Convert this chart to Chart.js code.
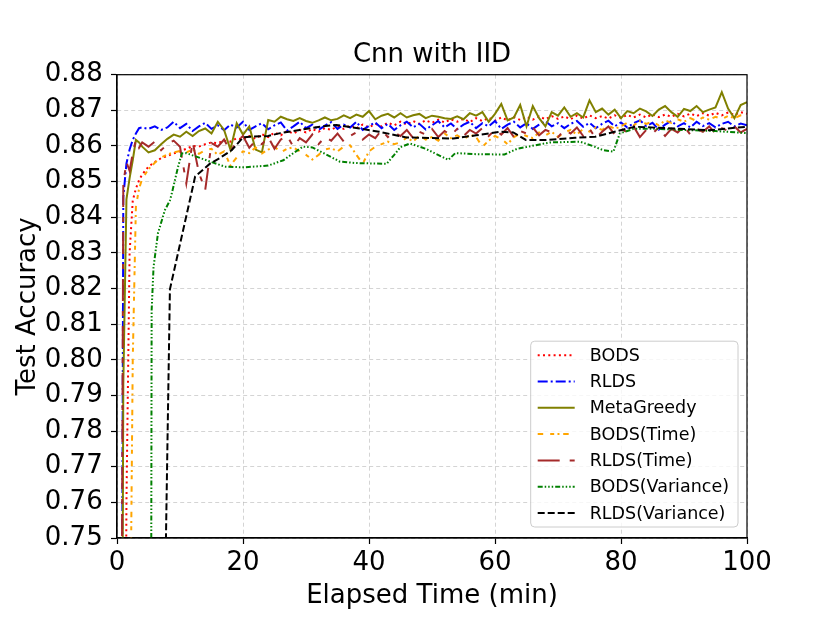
<!DOCTYPE html>
<html>
<head>
<meta charset="utf-8">
<script src="https://cdn.jsdelivr.net/npm/chart.js@4.4.1/dist/chart.umd.min.js"></script>
<style>
  html, body { margin: 0; padding: 0; background: #fff; }
  canvas { display: block; }
</style>
</head>
<body>
<canvas id="chart" width="830" height="623"></canvas>
<script>
// shared time axis (minutes) for the noisy runs
const minutes = [
  0, 0.5, 1, 1.5, 2, 2.5, 3, 3.5, 4,
  5, 6, 7, 8, 9, 10, 11, 12, 13, 14,
  15, 16, 17, 18, 19, 20, 21, 22, 23, 24,
  25, 26, 27, 28, 29, 30, 31, 32, 33, 34,
  35, 36, 37, 38, 39, 40, 41, 42, 43, 44,
  45, 46, 47, 48, 49, 50, 51, 52, 53, 54,
  55, 56, 57, 58, 59, 60, 61, 62, 63, 64,
  65, 66, 67, 68, 69, 70, 71, 72, 73, 74,
  75, 76, 77, 78, 79, 80, 81, 82, 83, 84,
  85, 86, 87, 88, 89, 90, 91, 92, 93, 94,
  95, 96, 97, 98, 99, 100
];

const bods = [
  0.50, 0.50, 0.60, 0.76, 0.83, 0.8447, 0.8480, 0.8504, 0.8520,
  0.8542, 0.8555, 0.8566, 0.8572, 0.8579, 0.8585, 0.8592, 0.8600, 0.8598, 0.8605,
  0.8610, 0.8608, 0.8615, 0.8612, 0.8622, 0.8618, 0.8628, 0.8620, 0.8633, 0.8625,
  0.8638, 0.8630, 0.8642, 0.8635, 0.8645, 0.8638, 0.8648, 0.8640, 0.8650, 0.8645,
  0.8655, 0.8648, 0.8658, 0.8650, 0.8660, 0.8652, 0.8662, 0.8655, 0.8665, 0.8658,
  0.8668, 0.8660, 0.8670, 0.8662, 0.8672, 0.8665, 0.8674, 0.8666, 0.8675, 0.8668,
  0.8676, 0.8667, 0.8678, 0.8670, 0.8679, 0.8671, 0.8680, 0.8672, 0.8681, 0.8673,
  0.8682, 0.8674, 0.8683, 0.8675, 0.8684, 0.8676, 0.8683, 0.8675, 0.8685, 0.8677,
  0.8686, 0.8678, 0.8684, 0.8677, 0.8686, 0.8679, 0.8687, 0.8680, 0.8688, 0.8680,
  0.8689, 0.8681, 0.8688, 0.8682, 0.8690, 0.8683, 0.8691, 0.8684, 0.8692, 0.8685,
  0.8693, 0.8686, 0.8694, 0.8687, 0.8695, 0.8690
];

const rlds = [
  0.50, 0.55, 0.8457, 0.8551, 0.8590, 0.8617, 0.8635, 0.8650, 0.8652,
  0.8648, 0.8655, 0.8645, 0.8652, 0.8668, 0.8650, 0.8662, 0.8642, 0.8655, 0.8665,
  0.8648, 0.8658, 0.8644, 0.8660, 0.8652, 0.8668, 0.8645, 0.8655, 0.8664, 0.8647,
  0.8658, 0.8666, 0.8643, 0.8655, 0.8668, 0.8650, 0.8660, 0.8645, 0.8657, 0.8667,
  0.8648, 0.8660, 0.8652, 0.8668, 0.8645, 0.8656, 0.8666, 0.8650, 0.8662, 0.8645,
  0.8658, 0.8668, 0.8652, 0.8662, 0.8646, 0.8658, 0.8670, 0.8652, 0.8663, 0.8647,
  0.8660, 0.8668, 0.8650, 0.8664, 0.8655, 0.8670, 0.8648, 0.8660, 0.8668, 0.8652,
  0.8664, 0.8648, 0.8660, 0.8670, 0.8655, 0.8664, 0.8650, 0.8662, 0.8670, 0.8654,
  0.8665, 0.8650, 0.8662, 0.8671, 0.8655, 0.8666, 0.8652, 0.8664, 0.8672, 0.8656,
  0.8665, 0.8646, 0.8660, 0.8670, 0.8655, 0.8664, 0.8652, 0.8668, 0.8656, 0.8664,
  0.8652, 0.8662, 0.8668, 0.8655, 0.8663, 0.8658
];

const metaGreedy = [
  0.50, 0.55, 0.793, 0.845, 0.851, 0.856, 0.8617, 0.8610, 0.8598,
  0.8582, 0.8588, 0.8605, 0.8620, 0.8632, 0.8626, 0.8640, 0.8628, 0.8642, 0.8649,
  0.8635, 0.8668, 0.8645, 0.8590, 0.8664, 0.8632, 0.8655, 0.8590, 0.8582, 0.8673,
  0.8668, 0.8682, 0.8675, 0.8670, 0.8678, 0.8670, 0.8665, 0.8672, 0.8680, 0.8672,
  0.8676, 0.8686, 0.8678, 0.8688, 0.8682, 0.8698, 0.8675, 0.8685, 0.8690, 0.8680,
  0.8692, 0.8680, 0.8686, 0.8690, 0.8678, 0.8685, 0.8682, 0.8678, 0.8676, 0.8683,
  0.8675, 0.8692, 0.8685, 0.8695, 0.8668, 0.8690, 0.8718, 0.8672, 0.8680, 0.8715,
  0.8655, 0.8712, 0.8678, 0.8655, 0.8695, 0.8685, 0.8708, 0.8682, 0.8692, 0.8680,
  0.8728, 0.8695, 0.8705, 0.8688, 0.8702, 0.8678, 0.8698, 0.8692, 0.8705, 0.8697,
  0.8684, 0.8702, 0.8712, 0.8695, 0.8682, 0.8704, 0.8698, 0.8712, 0.8695, 0.8702,
  0.8708, 0.8751, 0.8705, 0.8678, 0.8715, 0.8723
];

const bodsTime = [
  0.50, 0.50, 0.50, 0.60, 0.70, 0.80, 0.843, 0.848, 0.8508,
  0.8535, 0.8553, 0.8568, 0.8576, 0.8582, 0.8586, 0.8582, 0.8590, 0.8578, 0.8588,
  0.8592, 0.8575, 0.8585, 0.8545, 0.8568, 0.8585, 0.8580, 0.8596, 0.8579, 0.8590,
  0.8598, 0.8582, 0.8592, 0.8596, 0.8585, 0.8575, 0.8562, 0.8575, 0.8590, 0.8594,
  0.8585, 0.8598, 0.8602, 0.8575, 0.8550, 0.8585, 0.8598, 0.8605, 0.8612, 0.8605,
  0.8610, 0.8624, 0.8612, 0.8630, 0.8618, 0.8625, 0.8615, 0.8635, 0.8622, 0.8630,
  0.8618, 0.8632, 0.8625, 0.8598, 0.8615, 0.8628, 0.8620, 0.8605, 0.8625, 0.8635,
  0.8628, 0.8622, 0.8638, 0.8630, 0.8640, 0.8625, 0.8638, 0.8645, 0.8632, 0.8648,
  0.8640, 0.8652, 0.8645, 0.8658, 0.8648, 0.8655, 0.8665, 0.8658, 0.8670, 0.8662,
  0.8668, 0.8658, 0.8672, 0.8665, 0.8675, 0.8668, 0.8678, 0.8670, 0.8680, 0.8674,
  0.8682, 0.8676, 0.8684, 0.8678, 0.8686, 0.8688
];

const rldsTime = [
  0.50, 0.60, 0.8495, 0.8555, 0.8530, 0.8580, 0.8617, 0.8595, 0.8610,
  0.8598, 0.8612, 0.8588, 0.8605, 0.8615, 0.8598, 0.8495, 0.8612, 0.8525, 0.8476,
  0.8608, 0.8598, 0.8618, 0.8585, 0.8612, 0.8628, 0.8595, 0.8615, 0.8605, 0.8625,
  0.8592, 0.8618, 0.8628, 0.8598, 0.8622, 0.8610, 0.8632, 0.8605, 0.8625, 0.8615,
  0.8635, 0.8612, 0.8628, 0.8638, 0.8618, 0.8632, 0.8622, 0.8645, 0.8625, 0.8638,
  0.8628, 0.8645, 0.8622, 0.8640, 0.8632, 0.8648, 0.8625, 0.8642, 0.8630, 0.8648,
  0.8628, 0.8645, 0.8635, 0.8650, 0.8628, 0.8645, 0.8632, 0.8650, 0.8625, 0.8642,
  0.8635, 0.8652, 0.8630, 0.8645, 0.8638, 0.8625, 0.8645, 0.8635, 0.8652, 0.8628,
  0.8648, 0.8622, 0.8640, 0.8655, 0.8632, 0.8648, 0.8638, 0.8655, 0.8625, 0.8645,
  0.8635, 0.8652, 0.8628, 0.8648, 0.8638, 0.8655, 0.8632, 0.8648, 0.8640, 0.8655,
  0.8635, 0.8650, 0.8642, 0.8655, 0.8638, 0.8648
];

// the variance runs are smoother and sampled on their own time points
const bodsVarMinutes = [
  0, 5.3, 5.5, 5.8, 6.5, 7.6, 8.4, 8.7, 9.7, 10.3,
  11, 12.6, 14.8, 17.1, 20, 24, 26.4, 28, 29.5, 31,
  33, 35.4, 38, 42.8, 44, 45, 46.5, 49, 52.6, 53.7,
  57, 61.5, 63.5, 65.8, 68.8, 73.5, 75.5, 77.2, 78.8, 79.8,
  82, 86, 90, 95, 100
];
const bodsVar = [
  0.50, 0.60, 0.8139, 0.8260, 0.8355, 0.8420, 0.8447, 0.8467, 0.8542, 0.8579,
  0.8580, 0.8570, 0.8556, 0.8542, 0.8540, 0.8545, 0.8560, 0.8580, 0.8598, 0.8596,
  0.8578, 0.8556, 0.8552, 0.8550, 0.8575, 0.8597, 0.8607, 0.8592, 0.8561, 0.8580,
  0.8577, 0.8576, 0.8592, 0.8600, 0.8610, 0.8612, 0.8600, 0.8588, 0.8584, 0.8635,
  0.8648, 0.8648, 0.8645, 0.8642, 0.8636
];

const rldsVarMinutes = [
  0, 7.68, 8.4, 12.4, 14.8, 16.3, 18.2, 20, 21.1,
  24, 25.9, 29, 32.2, 34.8, 38.5, 41.6, 45.9, 53.4, 57,
  61, 62.9, 64.9, 68.1, 72.7, 75.9, 79, 82.2, 88.6, 93.9,
  100
];
const rldsVar = [
  0.50, 0.74, 0.8198, 0.8514, 0.8551, 0.8566, 0.8588, 0.8624, 0.8626,
  0.8628, 0.8636, 0.8645, 0.8654, 0.8659, 0.8649, 0.8640, 0.8624, 0.8621, 0.8630,
  0.8640, 0.8638, 0.8617, 0.8617, 0.8623, 0.8626, 0.8640, 0.8654, 0.8649, 0.8644,
  0.8654
];

const xTickValues = [0, 20, 40, 60, 80, 100];
const yTickValues = [0.75, 0.76, 0.77, 0.78, 0.79, 0.80, 0.81, 0.82, 0.83, 0.84, 0.85, 0.86, 0.87, 0.88];

const FONT = "'DejaVu Sans', 'Liberation Sans', sans-serif";
const BIG = 26;
const LEGEND_SIZE = 17.5;

const pts = (xs, ys) => xs.map((x, i) => ({ x: x, y: ys[i] }));

const series = [
  { label: "BODS", xs: minutes, ys: bods, color: "#ff0000", dash: [2, 3.3] },
  { label: "RLDS", xs: minutes, ys: rlds, color: "#0000ff", dash: [10, 3, 2, 3] },
  { label: "MetaGreedy", xs: minutes, ys: metaGreedy, color: "#808000", dash: [] },
  { label: "BODS(Time)", xs: minutes, ys: bodsTime, color: "#ffa500", dash: [5.5, 7, 4, 3.3, 2, 3.7] },
  { label: "RLDS(Time)", xs: minutes, ys: rldsTime, color: "#a52a2a", dash: [22, 10, 5, 10] },
  { label: "BODS(Variance)", xs: bodsVarMinutes, ys: bodsVar, color: "#008000", dash: [5, 2, 1.5, 2, 1.5, 2, 1.5, 2] },
  { label: "RLDS(Variance)", xs: rldsVarMinutes, ys: rldsVar, color: "#000000", dash: [7, 3] },
];

const datasets = series.map((s, i) => ({
  label: s.label,
  data: pts(s.xs, s.ys),
  borderColor: s.color,
  backgroundColor: s.color,
  borderWidth: 2,
  borderDash: s.dash,
  borderCapStyle: "butt",
  pointRadius: 0,
  tension: 0,
  fill: false,
  order: series.length - i, // later series drawn on top, like the original
}));

// black box round the plot area
const framePlugin = {
  id: "frame",
  afterDatasetsDraw(chart) {
    const { ctx, chartArea: a } = chart;
    ctx.save();
    ctx.strokeStyle = "#000";
    ctx.lineWidth = 1.2;
    ctx.setLineDash([]);
    ctx.strokeRect(a.left, a.top, a.right - a.left, a.bottom - a.top);
    ctx.restore();
  },
};

// legend box inside the lower right of the plot
const boxLegend = {
  id: "boxLegend",
  afterDatasetsDraw(chart) {
    const { ctx, chartArea: a } = chart;
    const sets = chart.data.datasets;
    ctx.save();
    ctx.font = `${LEGEND_SIZE}px ${FONT}`;
    const textW = Math.max(...sets.map((d) => ctx.measureText(d.label).width));
    const rowH = 26.3, padL = 7, handle = 37, gap = 15, padR = 9, padT = 14;
    const w = padL + handle + gap + textW + padR;
    const h = padT * 2 + rowH * (sets.length - 1);
    const x0 = a.right - 9 - w;
    const y0 = a.bottom - 11 - h;

    ctx.beginPath();
    ctx.roundRect(x0, y0, w, h, 4);
    ctx.fillStyle = "rgba(255,255,255,0.8)";
    ctx.fill();
    ctx.strokeStyle = "#cccccc";
    ctx.lineWidth = 1;
    ctx.stroke();

    sets.forEach((d, i) => {
      const y = y0 + padT + i * rowH;
      ctx.beginPath();
      ctx.setLineDash(d.borderDash);
      ctx.lineCap = "butt";
      ctx.strokeStyle = d.borderColor;
      ctx.lineWidth = d.borderWidth;
      ctx.moveTo(x0 + padL, y);
      ctx.lineTo(x0 + padL + handle, y);
      ctx.stroke();
      ctx.setLineDash([]);
      ctx.fillStyle = "#000";
      ctx.textBaseline = "middle";
      ctx.textAlign = "left";
      ctx.fillText(d.label, x0 + padL + handle + gap, y + 1);
    });
    ctx.restore();
  },
};

const gridColor = "rgba(176,176,176,0.55)";

new Chart(document.getElementById("chart"), {
  type: "line",
  data: { datasets: datasets },
  options: {
    responsive: false,
    animation: false,
    layout: { padding: { left: 0, right: 83, top: 0, bottom: 0 } },
    plugins: {
      legend: { display: false },
      tooltip: { enabled: false },
      title: {
        display: true,
        text: "Cnn with IID",
        color: "#000",
        fullSize: false,
        font: { family: FONT, size: BIG, weight: "normal", lineHeight: 1.2 },
        padding: { top: 39.4, bottom: 4.1 },
      },
    },
    scales: {
      x: {
        type: "linear",
        min: 0,
        max: 100,
        afterBuildTicks: (s) => { s.ticks = xTickValues.map((v) => ({ value: v })); },
        afterFit: (s) => { s.height = 85; },
        ticks: {
          color: "#000",
          font: { family: FONT, size: BIG, lineHeight: 1.2 },
          padding: 3.4,
          maxRotation: 0,
          autoSkip: false,
        },
        grid: { color: gridColor, lineWidth: 1, tickColor: "#000", tickLength: 6, tickWidth: 1.2 },
        border: { display: true, color: "#000", width: 1.2, dash: [4, 3] },
        title: {
          display: true,
          text: "Elapsed Time (min)",
          color: "#000",
          font: { family: FONT, size: BIG, lineHeight: 1.2 },
          padding: { top: 0, bottom: 10.7 },
        },
      },
      y: {
        type: "linear",
        min: 0.75,
        max: 0.88,
        afterBuildTicks: (s) => { s.ticks = yTickValues.map((v) => ({ value: v })); },
        afterFit: (s) => { s.width = 117; },
        ticks: {
          color: "#000",
          font: { family: FONT, size: BIG, lineHeight: 1.2 },
          padding: 8.3,
          autoSkip: false,
          callback: (v) => Number(v).toFixed(2),
        },
        grid: { color: gridColor, lineWidth: 1, tickColor: "#000", tickLength: 6, tickWidth: 1.2 },
        border: { display: true, color: "#000", width: 1.2, dash: [4, 3] },
        title: {
          display: true,
          text: "Test Accuracy",
          color: "#000",
          font: { family: FONT, size: BIG, lineHeight: 1.2 },
          padding: { top: 12.4, bottom: 0 },
        },
      },
    },
  },
  plugins: [framePlugin, boxLegend],
});
</script>
</body>
</html>
